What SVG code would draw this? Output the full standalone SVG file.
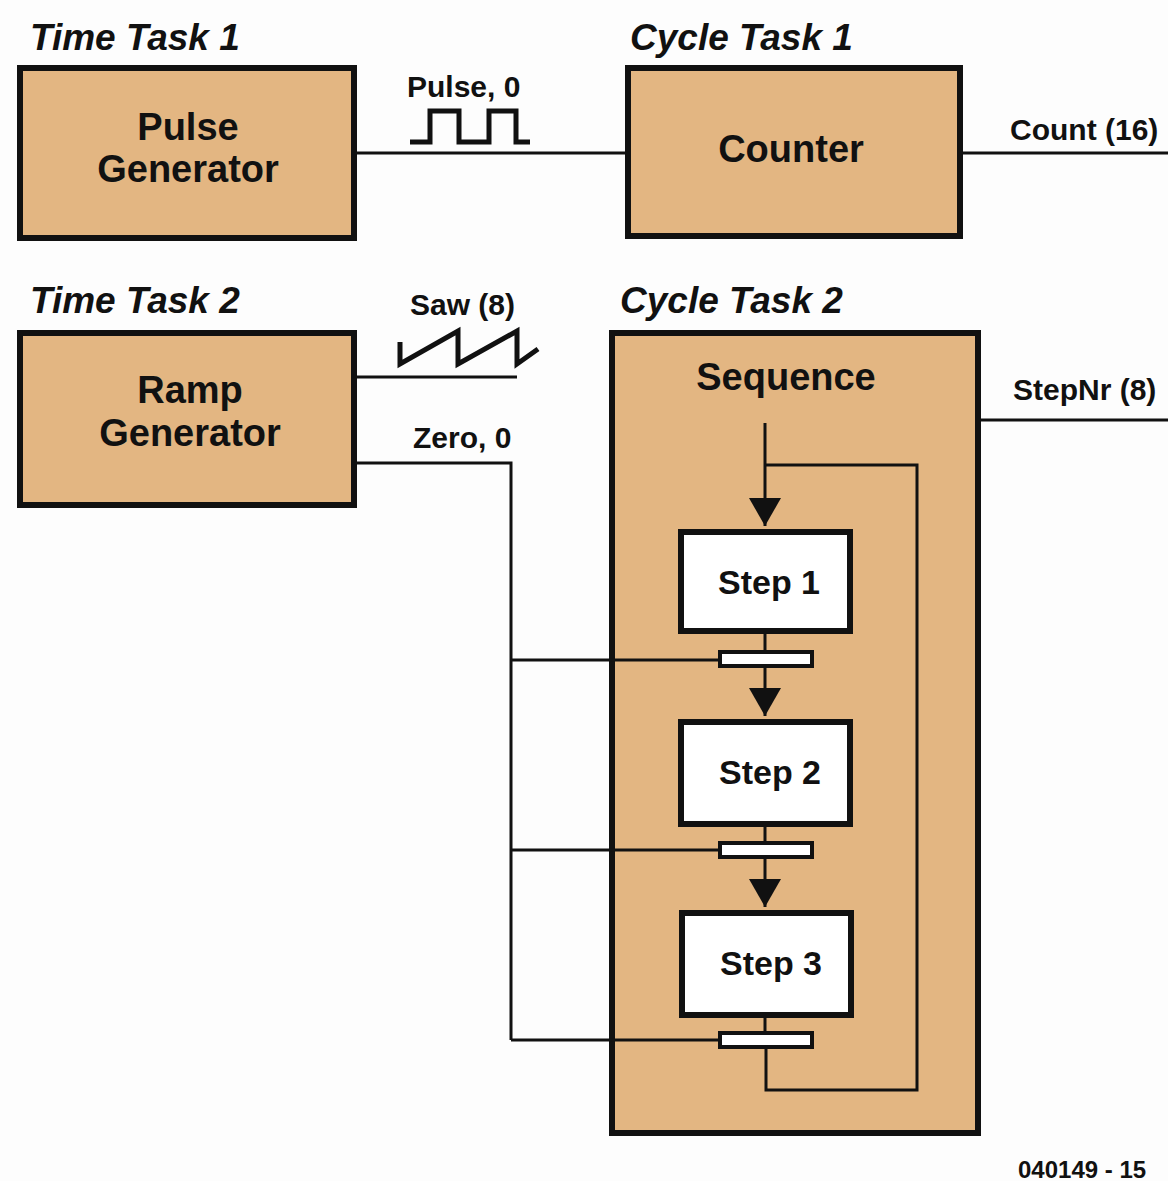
<svg xmlns="http://www.w3.org/2000/svg" width="1168" height="1181" viewBox="0 0 1168 1181">
<style>
.task{fill:#E3B682;stroke:#111;stroke-width:6}
.step{fill:#fff;stroke:#111;stroke-width:6}
.bar{fill:#fff;stroke:#111;stroke-width:4}
.t{font-family:"Liberation Sans",Arial,sans-serif;font-weight:bold;fill:#111}
.title{font-size:37px;font-style:italic}
.big{font-size:38px;text-anchor:middle}
.stp{font-size:34px;text-anchor:middle}
.lbl{font-size:30px}
.w{fill:none;stroke:#111;stroke-width:3}
.wave{fill:none;stroke:#111;stroke-width:5}
</style>
<defs>
<marker id="arr" markerWidth="30" markerHeight="32" refX="28" refY="16" markerUnits="userSpaceOnUse" orient="auto" viewBox="0 0 30 32">
<path d="M0,0 L28,16 L0,32 Z" fill="#111"/>
</marker>
</defs>
<rect width="1168" height="1181" fill="#fdfdfd"/>

<g id="labels">
<text class="t title" x="30" y="50">Time Task 1</text>
<text class="t title" x="630" y="50">Cycle Task 1</text>
<text class="t title" x="30" y="313">Time Task 2</text>
<text class="t title" x="620" y="313">Cycle Task 2</text>
<text class="t" x="1018" y="1178" font-size="24">040149 - 15</text>
</g>

<g id="time-task-1">
<rect class="task" x="20" y="68" width="334" height="170"/>
<text class="t big" x="188" y="140">Pulse</text>
<text class="t big" x="188" y="182">Generator</text>
</g>

<g id="cycle-task-1">
<rect class="task" x="628" y="68" width="332" height="168"/>
<text class="t big" x="791" y="162">Counter</text>
</g>

<g id="time-task-2">
<rect class="task" x="20" y="333" width="334" height="172"/>
<text class="t big" x="190" y="403">Ramp</text>
<text class="t big" x="190" y="446">Generator</text>
</g>

<g id="cycle-task-2">
<rect class="task" x="612" y="333" width="366" height="800"/>
<text class="t big" x="786" y="390">Sequence</text>
</g>

<g id="connectors">
<line class="w" x1="356" y1="153" x2="625" y2="153"/>
<text class="t lbl" x="407" y="97">Pulse, 0</text>
<path class="wave" d="M410,142 H430 V111 H459 V142 H489 V111 H516 V142 H530"/>
<line class="w" x1="962" y1="153" x2="1168" y2="153"/>
<text class="t lbl" x="1010" y="140">Count (16)</text>
<line class="w" x1="356" y1="377" x2="517" y2="377"/>
<text class="t lbl" x="410" y="315">Saw (8)</text>
<path class="wave" d="M400,342 V364 L458,331 V364 L517,331 V364 L538,349"/>
<path class="w" d="M356,463 H511 V1040"/>
<line class="w" x1="511" y1="660" x2="720" y2="660"/>
<line class="w" x1="511" y1="850" x2="720" y2="850"/>
<line class="w" x1="511" y1="1040" x2="720" y2="1040"/>
<text class="t lbl" x="413" y="448">Zero, 0</text>
<line class="w" x1="980" y1="420" x2="1168" y2="420"/>
<text class="t lbl" x="1013" y="400">StepNr (8)</text>
</g>

<g id="sequence-flow">
<line class="w" x1="765" y1="423" x2="765" y2="526" marker-end="url(#arr)"/>
<path class="w" d="M765,465 H917 V1090 H766 V1048"/>
<line class="w" x1="765" y1="633" x2="765" y2="652"/>
<line class="w" x1="765" y1="667" x2="765" y2="716" marker-end="url(#arr)"/>
<line class="w" x1="765" y1="826" x2="765" y2="843"/>
<line class="w" x1="765" y1="857" x2="765" y2="907" marker-end="url(#arr)"/>
<line class="w" x1="765" y1="1016" x2="765" y2="1033"/>
</g>

<g id="step-1">
<rect class="step" x="681" y="532" width="169" height="99"/>
<text class="t stp" x="769" y="594">Step 1</text>
</g>
<g id="transition-1"><rect class="bar" x="720" y="652" width="92" height="14"/></g>
<g id="step-2">
<rect class="step" x="681" y="722" width="169" height="102"/>
<text class="t stp" x="770" y="784">Step 2</text>
</g>
<g id="transition-2"><rect class="bar" x="720" y="843" width="92" height="14"/></g>
<g id="step-3">
<rect class="step" x="682" y="913" width="169" height="102"/>
<text class="t stp" x="771" y="975">Step 3</text>
</g>
<g id="transition-3"><rect class="bar" x="720" y="1033" width="92" height="14"/></g>
</svg>
